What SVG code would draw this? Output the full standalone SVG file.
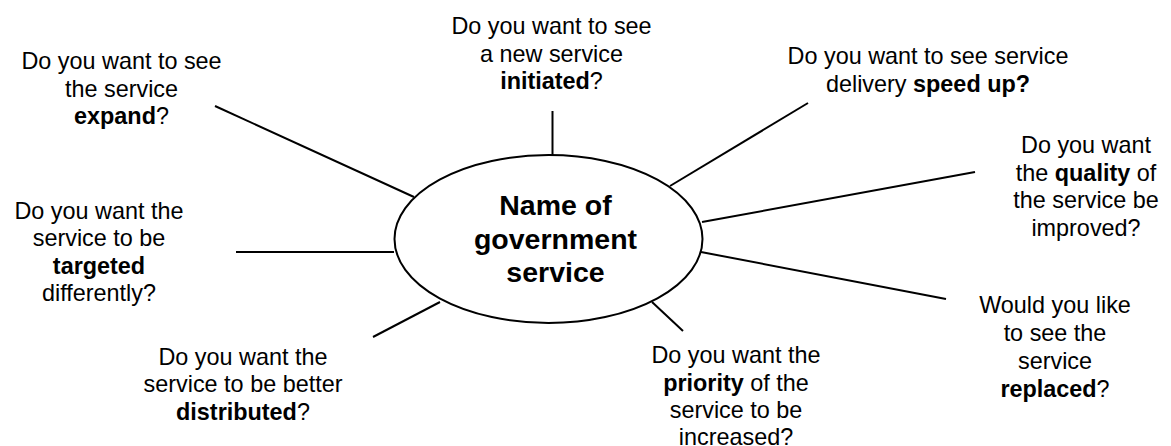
<svg xmlns="http://www.w3.org/2000/svg" width="1171" height="446" viewBox="0 0 1171 446">
<style>
text{font-family:"Liberation Sans",Arial,sans-serif;font-size:23.4px;fill:#000;text-anchor:middle}
.b{font-weight:bold}
.c{font-size:28.5px;font-weight:bold}
line,ellipse{stroke:#000;stroke-width:2;fill:none}
</style>
<rect width="1171" height="446" fill="#fff"/>
<g id="connectors">
<line x1="552.5" y1="111" x2="552.5" y2="155"/>
<line x1="215" y1="106" x2="414" y2="197"/>
<line x1="236" y1="252" x2="394" y2="252"/>
<line x1="373" y1="337" x2="440" y2="302"/>
<line x1="808" y1="103" x2="670" y2="186"/>
<line x1="975" y1="172" x2="702" y2="222"/>
<line x1="701" y1="252" x2="946" y2="299"/>
<line x1="652" y1="302" x2="683" y2="331"/>
</g>
<g id="center">
<ellipse cx="548.5" cy="239" rx="154" ry="84" fill="#fff"/>
<text class="c" x="555.5" y="215">Name of</text>
<text class="c" x="555.5" y="248.5">government</text>
<text class="c" x="555.5" y="282">service</text>
</g>
<g id="expand">
<text x="121.5" y="69">Do you want to see</text>
<text x="121.5" y="96.5">the service</text>
<text x="121.5" y="124"><tspan class="b">expand</tspan>?</text>
</g>
<g id="initiated">
<text x="551.5" y="33.5">Do you want to see</text>
<text x="551.5" y="61.5">a new service</text>
<text x="551.5" y="88.5"><tspan class="b">initiated</tspan>?</text>
</g>
<g id="speedup">
<text x="928" y="63.5">Do you want to see service</text>
<text x="928" y="91.5">delivery <tspan class="b">speed up?</tspan></text>
</g>
<g id="quality">
<text x="1086" y="153">Do you want</text>
<text x="1086" y="180.5">the <tspan class="b">quality</tspan> of</text>
<text x="1086" y="208">the service be</text>
<text x="1086" y="235.5">improved?</text>
</g>
<g id="replaced">
<text x="1055" y="313">Would you like</text>
<text x="1055" y="341">to see the</text>
<text x="1055" y="368.5">service</text>
<text x="1055" y="396.5"><tspan class="b">replaced</tspan>?</text>
</g>
<g id="priority">
<text x="736" y="363">Do you want the</text>
<text x="736" y="390.5"><tspan class="b">priority</tspan> of the</text>
<text x="736" y="418">service to be</text>
<text x="736" y="445">increased?</text>
</g>
<g id="targeted">
<text x="99" y="218.5">Do you want the</text>
<text x="99" y="246">service to be</text>
<text x="99" y="273.5"><tspan class="b">targeted</tspan></text>
<text x="99" y="300.5">differently?</text>
</g>
<g id="distributed">
<text x="243" y="365">Do you want the</text>
<text x="243" y="392">service to be better</text>
<text x="243" y="420"><tspan class="b">distributed</tspan>?</text>
</g>
</svg>
